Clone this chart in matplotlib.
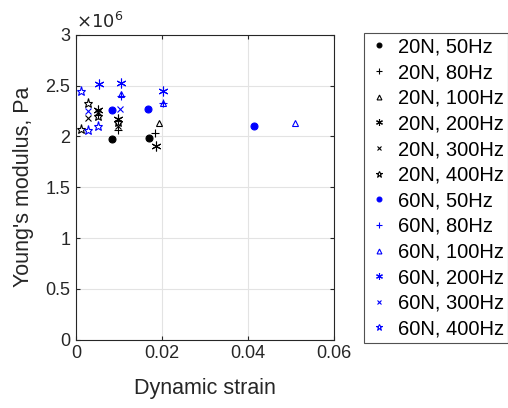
import matplotlib
matplotlib.use("Agg")
import matplotlib.pyplot as plt
from matplotlib.ticker import FuncFormatter

plt.rcParams['font.family'] = ['Liberation Sans', 'DejaVu Sans']

# Dynamic strain and Young's modulus (Pa) per load / frequency case
labels = ['20N, 50Hz', '20N, 80Hz', '20N, 100Hz', '20N, 200Hz', '20N, 300Hz', '20N, 400Hz',
          '60N, 50Hz', '60N, 80Hz', '60N, 100Hz', '60N, 200Hz', '60N, 300Hz', '60N, 400Hz']

strain_20N_50 = [0.0084, 0.0170]
modulus_20N_50 = [1.971e6, 1.984e6]
strain_20N_80 = [0.0052, 0.0098, 0.0184]
modulus_20N_80 = [2.215e6, 2.060e6, 2.036e6]
strain_20N_100 = [0.0194]
modulus_20N_100 = [2.128e6]
strain_20N_200 = [0.0052, 0.0098, 0.0186]
modulus_20N_200 = [2.262e6, 2.170e6, 1.905e6]
strain_20N_300 = [0.0027, 0.0052, 0.0098]
modulus_20N_300 = [2.178e6, 2.235e6, 2.100e6]
strain_20N_400 = [0.0012, 0.0027, 0.0052, 0.0098]
modulus_20N_400 = [2.069e6, 2.331e6, 2.200e6, 2.140e6]

strain_60N_50 = [0.0084, 0.0167, 0.0415]
modulus_60N_50 = [2.259e6, 2.266e6, 2.105e6]
strain_60N_80 = [0.0104, 0.0202]
modulus_60N_80 = [2.400e6, 2.330e6]
strain_60N_100 = [0.0104, 0.0202, 0.0509]
modulus_60N_100 = [2.414e6, 2.325e6, 2.134e6]
strain_60N_200 = [0.0054, 0.0104, 0.0202]
modulus_60N_200 = [2.512e6, 2.522e6, 2.446e6]
strain_60N_300 = [0.0027, 0.0102]
modulus_60N_300 = [2.252e6, 2.269e6]
strain_60N_400 = [0.0012, 0.0027, 0.0052]
modulus_60N_400 = [2.445e6, 2.062e6, 2.102e6]

series = [
    (strain_20N_50, modulus_20N_50), (strain_20N_80, modulus_20N_80),
    (strain_20N_100, modulus_20N_100), (strain_20N_200, modulus_20N_200),
    (strain_20N_300, modulus_20N_300), (strain_20N_400, modulus_20N_400),
    (strain_60N_50, modulus_60N_50), (strain_60N_80, modulus_60N_80),
    (strain_60N_100, modulus_60N_100), (strain_60N_200, modulus_60N_200),
    (strain_60N_300, modulus_60N_300), (strain_60N_400, modulus_60N_400),
]

x_ticks = [0, 0.02, 0.04, 0.06]
y_ticks = [0, 0.5e6, 1e6, 1.5e6, 2e6, 2.5e6, 3e6]

markers = ['o', '+', '^', (6, 2, 0), 'x', '*']
sizes = [5, 6, 5, 7, 5, 6.5]
colors = ['black'] * 6 + ['blue'] * 6

fig = plt.figure(figsize=(5.08, 4.08), dpi=100)
ax = fig.add_axes([0.1496, 0.1674, 0.5079, 0.7475])

for i, ((xs, ys), lab) in enumerate(zip(series, labels)):
    m = markers[i % 6]
    filled = m in ('o',)
    ax.plot(xs, ys, linestyle='none', marker=m, markersize=sizes[i % 6],
            color=colors[i],
            markerfacecolor=colors[i] if filled else 'none',
            markeredgewidth=0.8, label=lab)

ax.set_xlim(0, 0.06)
ax.set_ylim(0, 3e6)
ax.set_xticks(x_ticks)
ax.set_yticks(y_ticks)
ax.xaxis.set_major_formatter(FuncFormatter(lambda v, p: f'{v:g}'))
ax.yaxis.set_major_formatter(FuncFormatter(lambda v, p: f'{v / 1e6:g}'))
ax.tick_params(direction='in', length=3, labelsize=13, colors='#262626',
               top=True, right=True, labelcolor='#262626', pad=4)
ax.grid(True, color='#e3e3e3', linewidth=0.8)
ax.set_axisbelow(True)
for s in ax.spines.values():
    s.set_color('#262626')
    s.set_linewidth(0.8)

ax.text(0.0, 1.01, r'$\times10^{6}$', transform=ax.transAxes, fontsize=13,
        color='#262626', ha='left', va='bottom')

ax.set_xlabel('Dynamic strain', fontsize=15.5, color='#262626', labelpad=11)
ax.set_ylabel("Young's modulus, Pa", fontsize=15.5, color='#262626', labelpad=8)

leg = ax.legend(loc='upper left', bbox_to_anchor=(364 / 508, 1 - 33 / 408),
                bbox_transform=fig.transFigure, fontsize=14.5, frameon=True,
                fancybox=False, edgecolor='#262626', handlelength=1.0,
                handletextpad=0.45, labelspacing=0.33, borderpad=0.22,
                borderaxespad=0, markerscale=0.7)
leg.get_frame().set_linewidth(0.8)

fig.savefig('out.png', dpi=100)
